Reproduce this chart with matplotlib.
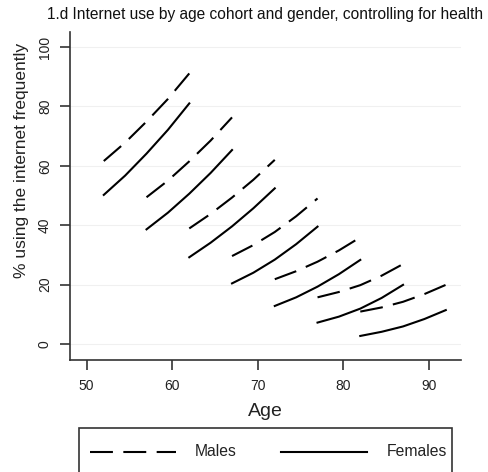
import matplotlib
matplotlib.use("Agg")
import matplotlib.pyplot as plt
from matplotlib.lines import Line2D
from matplotlib.patches import Rectangle

plt.rcParams['font.family'] = ['Liberation Sans', 'DejaVu Sans']

# predicted share using the internet, by 10-year age cohort (read every 2.5 years)
cohort_ages = [
    [52, 54.5, 57, 59.5, 62],
    [57, 59.5, 62, 64.5, 67],
    [62, 64.5, 67, 69.5, 72],
    [67, 69.5, 72, 74.5, 77],
    [72, 74.5, 77, 79.5, 82],
    [77, 79.5, 82, 84.5, 87],
    [82, 84.5, 87, 89.5, 92],
]
males = [
    [61.6, 67.8, 74.9, 82.5, 91.1],
    [49.4, 55.0, 61.5, 68.5, 76.3],
    [38.9, 43.8, 49.3, 55.3, 62.0],
    [29.6, 33.3, 37.7, 43.0, 49.0],
    [21.8, 24.5, 27.7, 31.5, 35.9],
    [15.7, 17.5, 19.8, 23.0, 26.9],
    [10.9, 12.3, 14.2, 16.8, 19.9],
]
females = [
    [50.2, 56.7, 64.1, 72.1, 81.0],
    [38.6, 44.2, 50.6, 57.6, 65.3],
    [29.2, 34.1, 39.6, 45.7, 52.4],
    [20.4, 24.0, 28.4, 33.6, 39.5],
    [12.8, 15.7, 19.3, 23.5, 28.3],
    [7.2, 9.2, 11.9, 15.5, 19.9],
    [2.7, 4.1, 5.9, 8.4, 11.4],
]
xticks = [50, 60, 70, 80, 90]
yticks = [0, 20, 40, 60, 80, 100]

W, H = 488, 472
fig = plt.figure(figsize=(W / 100, H / 100), dpi=100)
ax = fig.add_axes([70 / W, 1 - 360 / H, 391 / W, 328 / H])

dash = (11, 5)
for ages, m, f in zip(cohort_ages, males, females):
    ax.plot(ages, m, color='black', lw=1.5, dashes=dash)
    ax.plot(ages, f, color='black', lw=1.5)

ax.set_xlim(48.05, 93.78)
ax.set_ylim(-5.4, 105.05)
ax.set_xticks(xticks)
ax.set_yticks(yticks)
ax.set_yticklabels([str(v) for v in yticks], rotation=90, va='center')
for v in yticks:
    ax.axhline(v, color='#f0f0f0', lw=0.8, zorder=0)

for s in ['top', 'right']:
    ax.spines[s].set_visible(False)
for s in ['left', 'bottom']:
    ax.spines[s].set_color('#333333')
    ax.spines[s].set_linewidth(1.2)
ax.tick_params(axis='both', length=7, width=1.2, color='#333333',
               labelsize=10, labelcolor='#222222')
ax.tick_params(axis='x', pad=7)
ax.tick_params(axis='y', pad=6)

ax.set_xlabel('Age', fontsize=14, color='#222222')
ax.xaxis.set_label_coords(0.499, (360 - 403) / 328)
ax.set_ylabel('% using the internet frequently', fontsize=12.5, color='#222222')
ax.yaxis.set_label_coords((29 - 70) / 391, (360 - 160) / 328)
fig.text(265 / W, 1 - 15 / H,
         '1.d Internet use by age cohort and gender, controlling for health',
         ha='center', va='center', fontsize=11.2, color='#111111')

# legend box, running off the bottom edge
fig.patches.append(Rectangle((79 / W, -0.1), (452 - 79) / W, 0.1 + 1 - 428 / H,
                             transform=fig.transFigure, fill=False,
                             edgecolor='#333333', lw=1.2))
ly = 1 - 452 / H
fig.lines.append(Line2D([90 / W, 176 / W], [ly, ly], transform=fig.transFigure,
                        color='black', lw=1.5, dashes=dash))
fig.lines.append(Line2D([281 / W, 367 / W], [ly, ly], transform=fig.transFigure,
                        color='black', lw=1.5))
fig.text(195 / W, ly, 'Males', ha='left', va='center', fontsize=11.3,
         color='#222222')
fig.text(387 / W, ly, 'Females', ha='left', va='center', fontsize=11.3,
         color='#222222')

fig.savefig('out.png', dpi=100, facecolor='white')
